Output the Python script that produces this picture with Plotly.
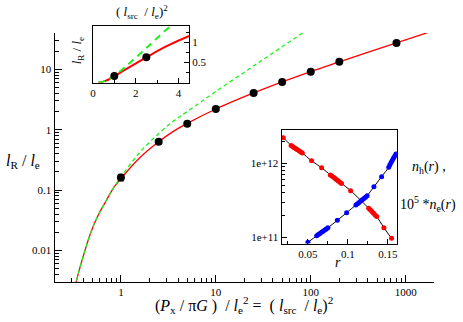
import plotly.graph_objects as go

W, H = 463, 322
FONT = 'Liberation Serif'

# main curves (l_R / l_e against (l_src / l_e)^2)
red_x = [0.25, 0.338, 0.42, 0.494, 0.58, 0.709, 0.833, 1.0, 1.57, 2.5, 3.5, 5, 10, 25, 50, 100, 200, 800, 1700]
red_y = [0.0003, 0.003, 0.0102, 0.022, 0.039, 0.069, 0.108, 0.155, 0.34, 0.63, 0.92, 1.27, 2.2, 4.06, 6.2, 9.2, 13.3, 27.4, 40.5]

green_x = [0.25, 0.338, 0.42, 0.494, 0.58, 0.709, 0.833, 1.0, 1.6, 2.5, 3.6, 5, 10, 30, 82]
green_y = [0.0003, 0.003, 0.0102, 0.022, 0.039, 0.069, 0.108, 0.165, 0.43, 0.86, 1.40, 2.0, 4.3, 13.8, 40]

dot_x = [1, 2.5, 5, 10, 25, 50, 100, 200, 800]
dot_y = [0.162, 0.632, 1.26, 2.2, 4.06, 6.18, 9.16, 13.3, 27.4]
dot_err = [0.02, 0, 0, 0, 0, 0, 0, 0, 0]

# density profiles of the lower-right inset
nh_r = [0.0193, 0.029, 0.031, 0.033, 0.035, 0.037, 0.039, 0.041, 0.043, 0.0546, 0.0671,
        0.078, 0.080, 0.082, 0.084, 0.086, 0.088, 0.090, 0.092, 0.1034,
        0.126, 0.128, 0.130, 0.132, 0.134, 0.136, 0.145, 0.1546]
nh_val = [2.24e12, 1.76e12, 1.70e12, 1.64e12, 1.585e12, 1.535e12, 1.486e12, 1.439e12, 1.393e12, 1.09e12, 8.77e11,
          7.01e11, 6.76e11, 6.52e11, 6.27e11, 6.04e11, 5.81e11, 5.58e11, 5.38e11, 4.28e11,
          2.48e11, 2.36e11, 2.24e11, 2.12e11, 2.01e11, 1.91e11, 1.35e11, 9.66e10]

ne_r = [0.05, 0.061, 0.063, 0.065, 0.067, 0.069, 0.071, 0.073, 0.075, 0.0868, 0.0984,
        0.110, 0.112, 0.114, 0.116, 0.118, 0.120, 0.122, 0.124, 0.1325, 0.1421,
        0.151, 0.1525, 0.154, 0.1555, 0.157, 0.1585, 0.160]
ne_val = [8.53e10, 1.047e11, 1.086e11, 1.125e11, 1.167e11, 1.208e11, 1.253e11, 1.297e11, 1.346e11, 1.694e11, 2.15e11,
          2.74e11, 2.85e11, 2.97e11, 3.09e11, 3.22e11, 3.36e11, 3.50e11, 3.65e11, 4.84e11, 6.62e11,
          8.91e11, 9.66e11, 1.035e12, 1.109e12, 1.189e12, 1.259e12, 1.349e12]


def px(x):
    return x / W


def py(y):
    return 1 - y / H


fig = go.Figure()

# main panel: red first, green dashes on top
fig.add_trace(go.Scatter(x=red_x, y=red_y, mode='lines', line=dict(color='#ff0000', width=1.3, shape='spline'),
                         xaxis='x', yaxis='y'))
fig.add_trace(go.Scatter(x=green_x, y=green_y, mode='lines',
                         line=dict(color='#22ee22', width=1.3, dash='4px,3px', shape='spline'),
                         xaxis='x', yaxis='y'))
fig.add_trace(go.Scatter(x=dot_x, y=dot_y, mode='markers', marker=dict(color='black', size=8),
                         error_y=dict(type='data', array=dot_err, color='black', thickness=1, width=3),
                         xaxis='x', yaxis='y'))

# top-left inset (linear)
fig.add_trace(go.Scatter(x=red_x, y=red_y, mode='lines', line=dict(color='#ff0000', width=2, shape='spline'),
                         xaxis='x2', yaxis='y2'))
fig.add_trace(go.Scatter(x=green_x, y=green_y, mode='lines',
                         line=dict(color='#22ee22', width=2, dash='7px,5px', shape='spline'),
                         xaxis='x2', yaxis='y2'))
fig.add_trace(go.Scatter(x=dot_x, y=dot_y, mode='markers', marker=dict(color='black', size=8),
                         xaxis='x2', yaxis='y2'))

# bottom-right inset
fig.add_trace(go.Scatter(x=nh_r, y=nh_val, mode='lines+markers', line=dict(color='black', width=1, shape='spline'),
                         marker=dict(color='#ff0000', size=5), xaxis='x3', yaxis='y3'))
fig.add_trace(go.Scatter(x=ne_r, y=ne_val, mode='lines+markers', line=dict(color='black', width=1, shape='spline'),
                         marker=dict(color='#0000ff', size=5), xaxis='x3', yaxis='y3'))

tickfont = dict(family=FONT, size=11, color='black')

main_x_minor = [0.3, 0.4, 0.5, 0.6, 0.7, 0.8, 0.9, 2, 3, 4, 5, 6, 7, 8, 9, 20, 30, 40, 50, 60, 70, 80, 90,
                200, 300, 400, 500, 600, 700, 800, 900, 2000]
main_y_minor = [0.004, 0.005, 0.006, 0.007, 0.008, 0.009, 0.02, 0.03, 0.04, 0.05, 0.06, 0.07, 0.08, 0.09,
                0.2, 0.3, 0.4, 0.5, 0.6, 0.7, 0.8, 0.9, 2, 3, 4, 5, 6, 7, 8, 9, 20, 30, 40]

fig.update_layout(
    width=W, height=H,
    margin=dict(l=0, r=0, t=0, b=0),
    paper_bgcolor='white', plot_bgcolor='white',
    showlegend=False,
    font=dict(family=FONT, color='black'),
    xaxis=dict(type='log', domain=[px(52), px(435)], range=[-0.699, 3.301], anchor='y',
               showline=True, linecolor='black', linewidth=1, showgrid=False, zeroline=False,
               tickmode='array', tickvals=[1, 10, 100, 1000], ticktext=['1', '10', '100', '1000'],
               ticks='inside', ticklen=7, tickcolor='black', tickfont=tickfont,
               minor=dict(tickmode='array', tickvals=main_x_minor, ticks='inside', ticklen=4,
                          tickcolor='black', showgrid=False)),
    yaxis=dict(type='log', domain=[py(282), py(33)], range=[-2.523, 1.602], anchor='x',
               showline=True, linecolor='black', linewidth=1, showgrid=False, zeroline=False,
               tickmode='array', tickvals=[0.01, 0.1, 1, 10], ticktext=['0.01', '0.1', '1', '10'],
               ticks='inside', ticklen=7, tickcolor='black', tickfont=tickfont,
               minor=dict(tickmode='array', tickvals=main_y_minor, ticks='inside', ticklen=4,
                          tickcolor='black', showgrid=False)),
    xaxis2=dict(domain=[px(90.7), px(187.7)], range=[0, 4.5], anchor='y2',
                showline=True, mirror=True, linecolor='black', linewidth=1, showgrid=False, zeroline=False,
                tickmode='array', tickvals=[0, 2, 4], ticks='inside', ticklen=5, tickcolor='black',
                tickfont=tickfont,
                minor=dict(tickmode='array', tickvals=[1, 3], ticks='inside', ticklen=3, tickcolor='black')),
    yaxis2=dict(domain=[py(82.5), py(25.7)], range=[0, 1.42], anchor='x2', side='right',
                showline=True, mirror=True, linecolor='black', linewidth=1, showgrid=False, zeroline=False,
                tickmode='array', tickvals=[0.5, 1], ticktext=['0.5', '1'], ticks='inside', ticklen=5,
                tickcolor='black', tickfont=tickfont,
                minor=dict(tickmode='array', tickvals=[0.25, 0.75, 1.25], ticks='inside', ticklen=3,
                           tickcolor='black')),
    xaxis3=dict(domain=[px(281), px(397.3)], range=[0.0171, 0.1612], anchor='y3',
                showline=True, mirror=True, linecolor='black', linewidth=1, showgrid=False, zeroline=False,
                tickmode='array', tickvals=[0.05, 0.1, 0.15], ticktext=['0.05', '0.1', '0.15'],
                ticks='inside', ticklen=5, tickcolor='black', tickfont=tickfont,
                minor=dict(tickmode='array', tickvals=[0.025, 0.075, 0.125], ticks='inside', ticklen=3,
                           tickcolor='black')),
    yaxis3=dict(type='log', domain=[py(243.5), py(130)], range=[10.915, 12.455], anchor='x3',
                showline=True, mirror=True, linecolor='black', linewidth=1, showgrid=False, zeroline=False,
                tickmode='array', tickvals=[1e11, 1e12], ticktext=['1e+11', '1e+12'],
                ticks='inside', ticklen=5, tickcolor='black', tickfont=tickfont,
                minor=dict(tickmode='array',
                           tickvals=[2e11, 3e11, 4e11, 5e11, 6e11, 7e11, 8e11, 9e11, 2e12],
                           ticks='inside', ticklen=3, tickcolor='black')),
)

# (x px, y px, text, size, angle)
labels = [
    (243, 305, '(<i>P</i><sub>x</sub> / π<i>G</i> )  / <i>l</i><sub>e</sub><sup>2</sup> =  ( <i>l</i><sub>src</sub>  / <i>l</i><sub>e</sub>)<sup>2</sup>', 16, 0),
    (20, 162, '<i>l</i><sub>R</sub> / <i>l</i><sub>e</sub>', 16, 0),
    (140, 12, '( <i>l</i><sub>src</sub>  / <i>l</i><sub>e</sub>)<sup>2</sup>', 13, 0),
    (76, 50, '<i>l</i><sub>R</sub> / <i>l</i><sub>e</sub>', 13, -90),
    (430, 167, '<i>n</i><sub>h</sub>(<i>r</i>) ,', 14, 0),
    (429, 204, '10<sup>5</sup> *<i>n</i><sub>e</sub>(<i>r</i>)', 14, 0),
    (338, 262, '<i>r</i>', 14, 0),
]
for x, y, text, size, angle in labels:
    fig.add_annotation(x=px(x), y=py(y), xref='paper', yref='paper', showarrow=False, text=text,
                       xanchor='center', yanchor='middle', textangle=angle,
                       font=dict(family=FONT, color='black', size=size))

fig.write_html('out.html', config={'displayModeBar': False},
               post_script="document.body.style.margin='0';document.body.style.padding='0';")
